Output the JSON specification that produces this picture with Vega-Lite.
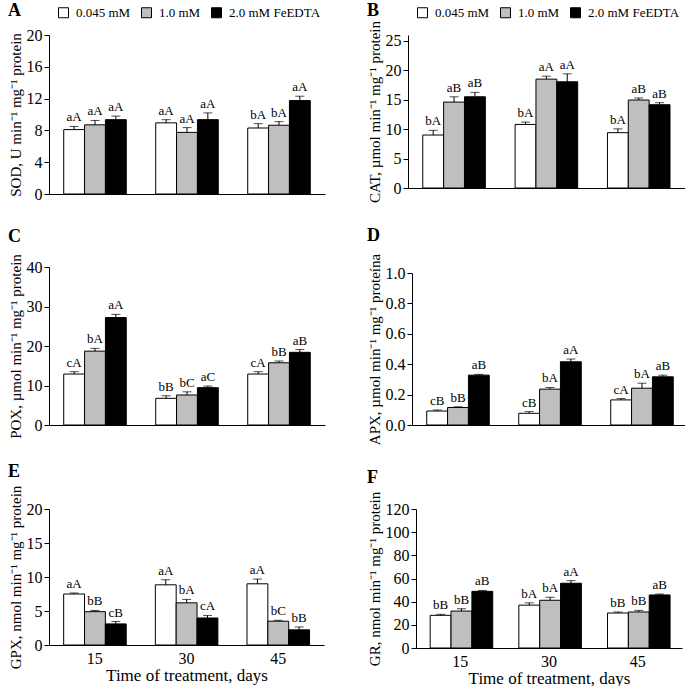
{
  "$schema": "https://vega.github.io/schema/vega-lite/v6.json",
  "padding": {"left": 7, "top": 2, "right": 0, "bottom": 0},
  "background": "white",
  "config": {
    "font": "Liberation Serif",
    "view": {"stroke": null},
    "axis": {"grid": false, "domainColor": "black", "tickColor": "black", "labelColor": "black", "titleColor": "black", "labelFont": "Liberation Serif", "titleFont": "Liberation Serif", "labelFontSize": 16, "titleFontSize": 15, "titleFontWeight": "normal", "tickSize": 5, "labelPadding": 2, "titlePadding": 3, "domainWidth": 1, "labelOverlap": false},
    "axisX": {"labelAngle": 0},
    "title": {"font": "Liberation Serif", "fontSize": 18, "fontWeight": "bold", "anchor": "start", "frame": "bounds", "color": "black", "offset": 8, "dy": 0},
    "text": {"font": "Liberation Serif", "fontSize": 13, "color": "black"},
    "legend": {"orient": "none", "direction": "horizontal", "title": null, "symbolType": "square", "symbolSize": 100, "symbolStrokeColor": "black", "symbolStrokeWidth": 1, "labelFont": "Liberation Serif", "labelFontSize": 13, "labelColor": "black", "columnPadding": 8, "labelOffset": 6}
  },
  "data": {"values": [
    {"panel":"A","day":"15","conc":"0.045 mM","value":8.1,"upper":8.5,"label":"aA"},
    {"panel":"A","day":"15","conc":"1.0 mM","value":8.7,"upper":9.25,"label":"aA"},
    {"panel":"A","day":"15","conc":"2.0 mM FeEDTA","value":9.35,"upper":9.8,"label":"aA"},
    {"panel":"A","day":"30","conc":"0.045 mM","value":8.95,"upper":9.35,"label":"aA"},
    {"panel":"A","day":"30","conc":"1.0 mM","value":7.75,"upper":8.35,"label":"aA"},
    {"panel":"A","day":"30","conc":"2.0 mM FeEDTA","value":9.35,"upper":10.2,"label":"aA"},
    {"panel":"A","day":"45","conc":"0.045 mM","value":8.3,"upper":8.85,"label":"bA"},
    {"panel":"A","day":"45","conc":"1.0 mM","value":8.65,"upper":9.1,"label":"bA"},
    {"panel":"A","day":"45","conc":"2.0 mM FeEDTA","value":11.75,"upper":12.3,"label":"aA"},
    {"panel":"B","day":"15","conc":"0.045 mM","value":9.0,"upper":9.8,"label":"bA"},
    {"panel":"B","day":"15","conc":"1.0 mM","value":14.6,"upper":15.5,"label":"aB"},
    {"panel":"B","day":"15","conc":"2.0 mM FeEDTA","value":15.5,"upper":16.25,"label":"aB"},
    {"panel":"B","day":"30","conc":"0.045 mM","value":10.8,"upper":11.2,"label":"bA"},
    {"panel":"B","day":"30","conc":"1.0 mM","value":18.5,"upper":19.0,"label":"aA"},
    {"panel":"B","day":"30","conc":"2.0 mM FeEDTA","value":18.05,"upper":19.4,"label":"aA"},
    {"panel":"B","day":"45","conc":"0.045 mM","value":9.4,"upper":10.05,"label":"bA"},
    {"panel":"B","day":"45","conc":"1.0 mM","value":14.95,"upper":15.3,"label":"aB"},
    {"panel":"B","day":"45","conc":"2.0 mM FeEDTA","value":14.15,"upper":14.5,"label":"aB"},
    {"panel":"C","day":"15","conc":"0.045 mM","value":12.9,"upper":13.5,"label":"cA"},
    {"panel":"C","day":"15","conc":"1.0 mM","value":18.7,"upper":19.4,"label":"bA"},
    {"panel":"C","day":"15","conc":"2.0 mM FeEDTA","value":27.2,"upper":28.0,"label":"aA"},
    {"panel":"C","day":"30","conc":"0.045 mM","value":6.75,"upper":7.4,"label":"bB"},
    {"panel":"C","day":"30","conc":"1.0 mM","value":7.6,"upper":8.4,"label":"bC"},
    {"panel":"C","day":"30","conc":"2.0 mM FeEDTA","value":9.45,"upper":9.85,"label":"aC"},
    {"panel":"C","day":"45","conc":"0.045 mM","value":12.9,"upper":13.5,"label":"cA"},
    {"panel":"C","day":"45","conc":"1.0 mM","value":15.75,"upper":16.2,"label":"bB"},
    {"panel":"C","day":"45","conc":"2.0 mM FeEDTA","value":18.4,"upper":19.1,"label":"aB"},
    {"panel":"D","day":"15","conc":"0.045 mM","value":0.092,"upper":0.099,"label":"cB"},
    {"panel":"D","day":"15","conc":"1.0 mM","value":0.115,"upper":0.12,"label":"bB"},
    {"panel":"D","day":"15","conc":"2.0 mM FeEDTA","value":0.328,"upper":0.333,"label":"aB"},
    {"panel":"D","day":"30","conc":"0.045 mM","value":0.077,"upper":0.088,"label":"cB"},
    {"panel":"D","day":"30","conc":"1.0 mM","value":0.236,"upper":0.247,"label":"bA"},
    {"panel":"D","day":"30","conc":"2.0 mM FeEDTA","value":0.416,"upper":0.434,"label":"aA"},
    {"panel":"D","day":"45","conc":"0.045 mM","value":0.165,"upper":0.174,"label":"cA"},
    {"panel":"D","day":"45","conc":"1.0 mM","value":0.242,"upper":0.275,"label":"bA"},
    {"panel":"D","day":"45","conc":"2.0 mM FeEDTA","value":0.317,"upper":0.328,"label":"aB"},
    {"panel":"E","day":"15","conc":"0.045 mM","value":7.5,"upper":7.65,"label":"aA"},
    {"panel":"E","day":"15","conc":"1.0 mM","value":4.9,"upper":5.08,"label":"bB"},
    {"panel":"E","day":"15","conc":"2.0 mM FeEDTA","value":3.1,"upper":3.45,"label":"cB"},
    {"panel":"E","day":"30","conc":"0.045 mM","value":8.85,"upper":9.6,"label":"aA"},
    {"panel":"E","day":"30","conc":"1.0 mM","value":6.2,"upper":6.7,"label":"bA"},
    {"panel":"E","day":"30","conc":"2.0 mM FeEDTA","value":3.97,"upper":4.35,"label":"cA"},
    {"panel":"E","day":"45","conc":"0.045 mM","value":9.0,"upper":9.7,"label":"aA"},
    {"panel":"E","day":"45","conc":"1.0 mM","value":3.5,"upper":3.63,"label":"bC"},
    {"panel":"E","day":"45","conc":"2.0 mM FeEDTA","value":2.23,"upper":2.65,"label":"bB"},
    {"panel":"F","day":"15","conc":"0.045 mM","value":28.2,"upper":29.1,"label":"bB"},
    {"panel":"F","day":"15","conc":"1.0 mM","value":31.9,"upper":33.9,"label":"bB"},
    {"panel":"F","day":"15","conc":"2.0 mM FeEDTA","value":48.9,"upper":49.7,"label":"aB"},
    {"panel":"F","day":"30","conc":"0.045 mM","value":37.0,"upper":39.0,"label":"bA"},
    {"panel":"F","day":"30","conc":"1.0 mM","value":41.2,"upper":43.8,"label":"bA"},
    {"panel":"F","day":"30","conc":"2.0 mM FeEDTA","value":55.9,"upper":58.2,"label":"aA"},
    {"panel":"F","day":"45","conc":"0.045 mM","value":30.2,"upper":31.1,"label":"bB"},
    {"panel":"F","day":"45","conc":"1.0 mM","value":31.1,"upper":32.5,"label":"bB"},
    {"panel":"F","day":"45","conc":"2.0 mM FeEDTA","value":45.8,"upper":46.6,"label":"aB"}
  ]},
  "columns": 2,
  "align": "none",
  "bounds": "full",
  "spacing": {"row": 24, "column": 41},
  "resolve": {"scale": {"fill": "independent"}, "legend": {"fill": "independent"}},
  "concat": [
    {
      "width": 276, "height": 159,
      "title": {"text": "A", "offset": 0, "dy": 14},
      "transform": [{"filter": "datum.panel === 'A'"}],
      "encoding": {
        "x": {"field": "day", "type": "nominal", "scale": {"paddingInner": 0.32, "paddingOuter": 0.16}, "axis": {"labels": false, "ticks": false, "title": null}},
        "xOffset": {"field": "conc", "type": "nominal", "scale": {"paddingInner": 0, "paddingOuter": 0}}
      },
      "layer": [
        {"mark": {"type": "bar", "stroke": "black", "strokeWidth": 1},
         "encoding": {
           "y": {"field": "value", "type": "quantitative", "title": "SOD, U min⁻¹ mg⁻¹ protein", "scale": {"domain": [0, 20]}, "axis": {"values": [0, 4, 8, 12, 16, 20], "tickCount": 20}},
           "fill": {"field": "conc", "type": "nominal", "scale": {"domain": ["0.045 mM", "1.0 mM", "2.0 mM FeEDTA"], "range": ["white", "#bfbfbf", "black"]}, "legend": {"legendX": 8, "legendY": -29}}
         }},
        {"mark": {"type": "rule", "color": "black"}, "encoding": {"y": {"field": "value", "type": "quantitative", "title": "SOD, U min⁻¹ mg⁻¹ protein"}, "y2": {"field": "upper"}}},
        {"mark": {"type": "tick", "color": "black", "size": 9, "thickness": 1}, "encoding": {"y": {"field": "upper", "type": "quantitative", "title": "SOD, U min⁻¹ mg⁻¹ protein"}}},
        {"mark": {"type": "text", "dy": -5, "baseline": "alphabetic"}, "encoding": {"y": {"field": "upper", "type": "quantitative", "title": "SOD, U min⁻¹ mg⁻¹ protein"}, "text": {"field": "label"}}}
      ]
    },
    {
      "width": 277, "height": 153,
      "title": {"text": "B", "offset": 0, "dy": 14},
      "transform": [{"filter": "datum.panel === 'B'"}],
      "encoding": {
        "x": {"field": "day", "type": "nominal", "scale": {"paddingInner": 0.32, "paddingOuter": 0.16}, "axis": {"labels": false, "ticks": false, "title": null}},
        "xOffset": {"field": "conc", "type": "nominal", "scale": {"paddingInner": 0, "paddingOuter": 0}}
      },
      "layer": [
        {"mark": {"type": "bar", "stroke": "black", "strokeWidth": 1},
         "encoding": {
           "y": {"field": "value", "type": "quantitative", "title": "CAT, µmol min⁻¹ mg⁻¹ protein", "scale": {"domain": [0, 25]}, "axis": {"values": [0, 5, 10, 15, 20, 25], "tickCount": 20}},
           "fill": {"field": "conc", "type": "nominal", "scale": {"domain": ["0.045 mM", "1.0 mM", "2.0 mM FeEDTA"], "range": ["white", "#bfbfbf", "black"]}, "legend": {"legendX": 8, "legendY": -29}}
         }},
        {"mark": {"type": "rule", "color": "black"}, "encoding": {"y": {"field": "value", "type": "quantitative", "title": "CAT, µmol min⁻¹ mg⁻¹ protein"}, "y2": {"field": "upper"}}},
        {"mark": {"type": "tick", "color": "black", "size": 9, "thickness": 1}, "encoding": {"y": {"field": "upper", "type": "quantitative", "title": "CAT, µmol min⁻¹ mg⁻¹ protein"}}},
        {"mark": {"type": "text", "dy": -5, "baseline": "alphabetic"}, "encoding": {"y": {"field": "upper", "type": "quantitative", "title": "CAT, µmol min⁻¹ mg⁻¹ protein"}, "text": {"field": "label"}}}
      ]
    },
    {
      "width": 276, "height": 158,
      "title": {"text": "C"},
      "transform": [{"filter": "datum.panel === 'C'"}],
      "encoding": {
        "x": {"field": "day", "type": "nominal", "scale": {"paddingInner": 0.32, "paddingOuter": 0.16}, "axis": {"labels": false, "ticks": false, "title": null}},
        "xOffset": {"field": "conc", "type": "nominal", "scale": {"paddingInner": 0, "paddingOuter": 0}}
      },
      "layer": [
        {"mark": {"type": "bar", "stroke": "black", "strokeWidth": 1},
         "encoding": {
           "y": {"field": "value", "type": "quantitative", "title": "POX, µmol min⁻¹ mg⁻¹ protein", "scale": {"domain": [0, 40]}, "axis": {"values": [0, 10, 20, 30, 40], "tickCount": 20}},
           "fill": {"field": "conc", "type": "nominal", "scale": {"domain": ["0.045 mM", "1.0 mM", "2.0 mM FeEDTA"], "range": ["white", "#bfbfbf", "black"]}, "legend": null}
         }},
        {"mark": {"type": "rule", "color": "black"}, "encoding": {"y": {"field": "value", "type": "quantitative", "title": "POX, µmol min⁻¹ mg⁻¹ protein"}, "y2": {"field": "upper"}}},
        {"mark": {"type": "tick", "color": "black", "size": 9, "thickness": 1}, "encoding": {"y": {"field": "upper", "type": "quantitative", "title": "POX, µmol min⁻¹ mg⁻¹ protein"}}},
        {"mark": {"type": "text", "dy": -5, "baseline": "alphabetic"}, "encoding": {"y": {"field": "upper", "type": "quantitative", "title": "POX, µmol min⁻¹ mg⁻¹ protein"}, "text": {"field": "label"}}}
      ]
    },
    {
      "width": 276, "height": 152,
      "title": {"text": "D"},
      "transform": [{"filter": "datum.panel === 'D'"}],
      "encoding": {
        "x": {"field": "day", "type": "nominal", "scale": {"paddingInner": 0.32, "paddingOuter": 0.16}, "axis": {"labels": false, "ticks": false, "title": null}},
        "xOffset": {"field": "conc", "type": "nominal", "scale": {"paddingInner": 0, "paddingOuter": 0}}
      },
      "layer": [
        {"mark": {"type": "bar", "stroke": "black", "strokeWidth": 1},
         "encoding": {
           "y": {"field": "value", "type": "quantitative", "title": "APX, µmol min⁻¹ mg⁻¹ proteína", "scale": {"domain": [0, 1]}, "axis": {"values": [0, 0.2, 0.4, 0.6, 0.8, 1.0], "format": ".1f", "tickCount": 20}},
           "fill": {"field": "conc", "type": "nominal", "scale": {"domain": ["0.045 mM", "1.0 mM", "2.0 mM FeEDTA"], "range": ["white", "#bfbfbf", "black"]}, "legend": null}
         }},
        {"mark": {"type": "rule", "color": "black"}, "encoding": {"y": {"field": "value", "type": "quantitative", "title": "APX, µmol min⁻¹ mg⁻¹ proteína"}, "y2": {"field": "upper"}}},
        {"mark": {"type": "tick", "color": "black", "size": 9, "thickness": 1}, "encoding": {"y": {"field": "upper", "type": "quantitative", "title": "APX, µmol min⁻¹ mg⁻¹ proteína"}}},
        {"mark": {"type": "text", "dy": -5, "baseline": "alphabetic"}, "encoding": {"y": {"field": "upper", "type": "quantitative", "title": "APX, µmol min⁻¹ mg⁻¹ proteína"}, "text": {"field": "label"}}}
      ]
    },
    {
      "width": 275, "height": 136,
      "title": {"text": "E", "offset": 4},
      "transform": [{"filter": "datum.panel === 'E'"}],
      "encoding": {
        "x": {"field": "day", "type": "nominal", "scale": {"paddingInner": 0.32, "paddingOuter": 0.16}, "axis": {"labels": true, "ticks": false, "title": "Time of treatment, days", "titleFontSize": 17, "labelPadding": 5, "titlePadding": 1}},
        "xOffset": {"field": "conc", "type": "nominal", "scale": {"paddingInner": 0, "paddingOuter": 0}}
      },
      "layer": [
        {"mark": {"type": "bar", "stroke": "black", "strokeWidth": 1},
         "encoding": {
           "y": {"field": "value", "type": "quantitative", "title": "GPX, nmol min⁻¹ mg⁻¹ protein", "scale": {"domain": [0, 20]}, "axis": {"values": [0, 5, 10, 15, 20], "tickCount": 20}},
           "fill": {"field": "conc", "type": "nominal", "scale": {"domain": ["0.045 mM", "1.0 mM", "2.0 mM FeEDTA"], "range": ["white", "#bfbfbf", "black"]}, "legend": null}
         }},
        {"mark": {"type": "rule", "color": "black"}, "encoding": {"y": {"field": "value", "type": "quantitative", "title": "GPX, nmol min⁻¹ mg⁻¹ protein"}, "y2": {"field": "upper"}}},
        {"mark": {"type": "tick", "color": "black", "size": 9, "thickness": 1}, "encoding": {"y": {"field": "upper", "type": "quantitative", "title": "GPX, nmol min⁻¹ mg⁻¹ protein"}}},
        {"mark": {"type": "text", "dy": -5, "baseline": "alphabetic"}, "encoding": {"y": {"field": "upper", "type": "quantitative", "title": "GPX, nmol min⁻¹ mg⁻¹ protein"}, "text": {"field": "label"}}}
      ]
    },
    {
      "width": 266, "height": 139,
      "title": {"text": "F", "offset": 4},
      "transform": [{"filter": "datum.panel === 'F'"}],
      "encoding": {
        "x": {"field": "day", "type": "nominal", "scale": {"paddingInner": 0.32, "paddingOuter": 0.16}, "axis": {"labels": true, "ticks": false, "title": "Time of treatment, days", "titleFontSize": 17, "labelPadding": 5, "titlePadding": 1}},
        "xOffset": {"field": "conc", "type": "nominal", "scale": {"paddingInner": 0, "paddingOuter": 0}}
      },
      "layer": [
        {"mark": {"type": "bar", "stroke": "black", "strokeWidth": 1},
         "encoding": {
           "y": {"field": "value", "type": "quantitative", "title": "GR, nmol min⁻¹ mg⁻¹ protein", "scale": {"domain": [0, 120]}, "axis": {"values": [0, 20, 40, 60, 80, 100, 120], "tickCount": 20}},
           "fill": {"field": "conc", "type": "nominal", "scale": {"domain": ["0.045 mM", "1.0 mM", "2.0 mM FeEDTA"], "range": ["white", "#bfbfbf", "black"]}, "legend": null}
         }},
        {"mark": {"type": "rule", "color": "black"}, "encoding": {"y": {"field": "value", "type": "quantitative", "title": "GR, nmol min⁻¹ mg⁻¹ protein"}, "y2": {"field": "upper"}}},
        {"mark": {"type": "tick", "color": "black", "size": 9, "thickness": 1}, "encoding": {"y": {"field": "upper", "type": "quantitative", "title": "GR, nmol min⁻¹ mg⁻¹ protein"}}},
        {"mark": {"type": "text", "dy": -5, "baseline": "alphabetic"}, "encoding": {"y": {"field": "upper", "type": "quantitative", "title": "GR, nmol min⁻¹ mg⁻¹ protein"}, "text": {"field": "label"}}}
      ]
    }
  ]
}
